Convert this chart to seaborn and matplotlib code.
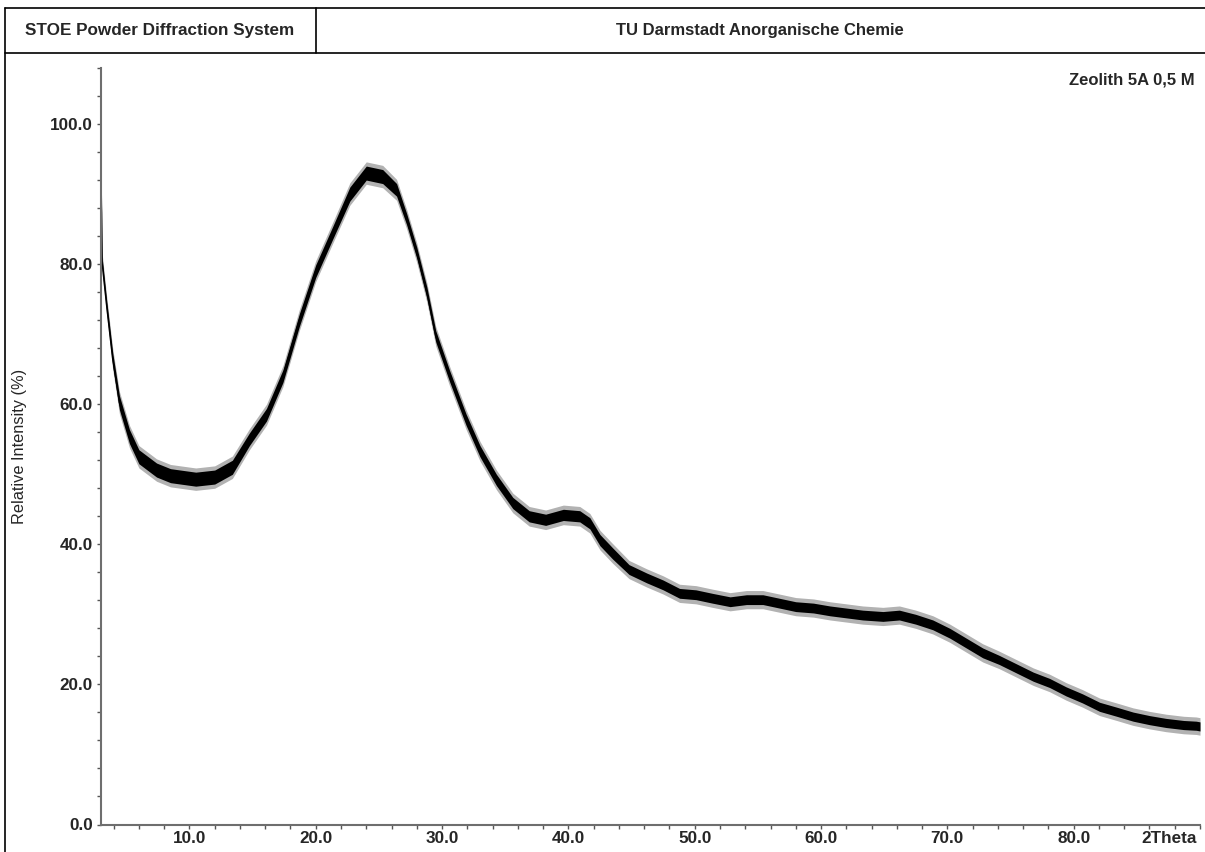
import numpy as np
import pandas as pd
import matplotlib
matplotlib.use("Agg")
import matplotlib.pyplot as plt
from matplotlib.lines import Line2D
from matplotlib.ticker import MultipleLocator, FormatStrFormatter
import seaborn as sns

# Diffractogram of Zeolith 5A (0,5 M): 2-theta positions and relative intensity (%)
two_theta = [3.0, 3.1, 3.45, 3.93, 4.46, 5.25, 6.0, 7.4, 8.5, 10.5, 12.0, 13.4,
             14.75, 16.1, 17.4, 18.7, 20.0, 21.35, 22.7, 24.0, 25.3, 26.4, 27.2,
             28.0, 28.8, 29.5, 30.6, 31.9, 33.0, 34.3, 35.6, 36.9, 38.2, 39.6,
             40.9, 41.7, 42.5, 43.5, 44.8, 46.2, 47.5, 48.8, 50.1, 51.4, 52.8,
             54.1, 55.4, 56.7, 58.0, 59.4, 60.7, 62.0, 63.3, 64.9, 66.2, 67.5,
             68.85, 70.2, 71.5, 72.8, 74.1, 75.45, 76.8, 78.1, 79.4, 80.7, 82.05,
             83.4, 84.7, 86.0, 87.3, 88.7, 89.7, 90.0]
intensity = [93.0, 80.0, 74.0, 66.4, 60.2, 55.4, 52.5, 50.6, 49.8, 49.3, 49.6, 51.0,
             55.0, 58.5, 64.0, 72.0, 79.0, 84.5, 90.0, 93.0, 92.5, 90.6, 86.4,
             81.6, 75.9, 69.7, 64.0, 57.8, 53.3, 49.2, 45.9, 44.0, 43.5, 44.2,
             44.0, 43.0, 40.6, 38.7, 36.4, 35.2, 34.2, 33.0, 32.8, 32.3, 31.8,
             32.1, 32.1, 31.6, 31.1, 30.9, 30.5, 30.2, 29.9, 29.7, 29.9, 29.3,
             28.5, 27.3, 25.9, 24.5, 23.5, 22.3, 21.1, 20.2, 19.0, 18.0, 16.8,
             16.1, 15.4, 14.9, 14.5, 14.2, 14.1, 14.0]
# half-width of the counting-noise band around the trace (% units)
noise = [0.2, 0.8, 0.8, 0.9, 1.0, 1.0, 1.0, 1.0, 1.0, 1.0, 1.0, 1.0,
         0.9, 0.9, 0.9, 0.9, 0.9, 0.9, 1.0, 1.0, 1.0, 0.9, 0.8,
         0.8, 0.8, 0.8, 0.8, 0.8, 0.8, 0.8, 0.8, 0.8, 0.8, 0.8,
         0.8, 0.8, 0.8, 0.8, 0.7, 0.7, 0.7, 0.7, 0.7, 0.7, 0.7,
         0.7, 0.7, 0.7, 0.7, 0.7, 0.7, 0.7, 0.7, 0.7, 0.7, 0.7,
         0.7, 0.7, 0.7, 0.7, 0.65, 0.65, 0.65, 0.65, 0.65, 0.65, 0.65,
         0.65, 0.65, 0.65, 0.65, 0.65, 0.65, 0.65]

x_ticks = [10, 20, 30, 40, 50, 60, 70, 80]
y_ticks = [0, 20, 40, 60, 80, 100]

df = pd.DataFrame({"two_theta": two_theta, "intensity": intensity, "noise": noise})

sns.set_theme(style="white")
plt.rcParams["font.family"] = ["Liberation Sans", "DejaVu Sans"]

W, H = 1205, 852
fig = plt.figure(figsize=(W / 100, H / 100), dpi=100)
fig.patch.set_facecolor("white")

# plot area in pixel terms
left, right, top, bottom = 101, 1200, 68, 824.5
ax = fig.add_axes([left / W, 1 - bottom / H, (right - left) / W, (bottom - top) / H])

lo = df["intensity"] - df["noise"]
hi = df["intensity"] + df["noise"]
ax.fill_between(df["two_theta"], lo - 0.6, hi + 0.6, color="black", alpha=0.3, lw=0)
ax.fill_between(df["two_theta"], lo, hi, color="black", lw=0)
sns.lineplot(data=df, x="two_theta", y="intensity", ax=ax, color="black", lw=1.0,
             estimator=None, sort=False)

tick_len, x_pad = 3, 1.5
ax.set_xlim(3.0, 90.0)
ax.set_ylim(0, 108)
ax.set_xticks(x_ticks)
ax.set_yticks(y_ticks)
ax.xaxis.set_minor_locator(MultipleLocator(2))
ax.yaxis.set_minor_locator(MultipleLocator(4))
ax.xaxis.set_major_formatter(FormatStrFormatter("%.1f"))
ax.yaxis.set_major_formatter(FormatStrFormatter("%.1f"))
ax.tick_params(axis="both", which="both", direction="out", length=tick_len, width=1,
               color="#555555", labelsize=12.3)
ax.tick_params(axis="x", which="both", pad=x_pad)
ax.tick_params(axis="y", which="both", pad=3)
ax.tick_params(axis="both", which="both", bottom=True, left=True)
for lab in ax.get_xticklabels() + ax.get_yticklabels():
    lab.set_fontweight("bold")

for side in ["top", "right"]:
    ax.spines[side].set_visible(False)
for side in ["left", "bottom"]:
    ax.spines[side].set_color("#6e6e6e")
    ax.spines[side].set_linewidth(1.5)

ax.set_xlabel("")
ax.set_ylabel("Relative Intensity (%)", fontsize=11.8)
ax.yaxis.set_label_coords((27 - left) / (right - left), 0.5)
# axis title sits on the same line as the tick labels, at the right end
ax.annotate("2Theta", xy=(1.0, 0.0), xycoords="axes fraction",
            xytext=(-2, -(tick_len + x_pad)), textcoords="offset points",
            ha="right", va="top", fontsize=12.3, fontweight="bold")
ax.text(1195 / W, 1 - 80 / H, "Zeolith 5A 0,5 M", transform=fig.transFigure,
        ha="right", va="center", fontsize=12, fontweight="bold")

# header frame
def hline(y, x0, x1):
    fig.add_artist(Line2D([x0 / W, x1 / W], [1 - y / H, 1 - y / H],
                          transform=fig.transFigure, color="black", lw=1.2))

def vline(x, y0, y1):
    fig.add_artist(Line2D([x / W, x / W], [1 - y0 / H, 1 - y1 / H],
                          transform=fig.transFigure, color="black", lw=1.2))

hline(8, 5, W)
hline(53, 5, W)
vline(5, 8, H)
vline(316, 8, 53)
fig.text(160 / W, 1 - 30.5 / H, "STOE Powder Diffraction System", ha="center",
         va="center", fontsize=12.3, fontweight="bold")
fig.text(760 / W, 1 - 30.5 / H, "TU Darmstadt Anorganische Chemie", ha="center",
         va="center", fontsize=12, fontweight="bold")

fig.savefig("out.png", dpi=100, facecolor="white")
